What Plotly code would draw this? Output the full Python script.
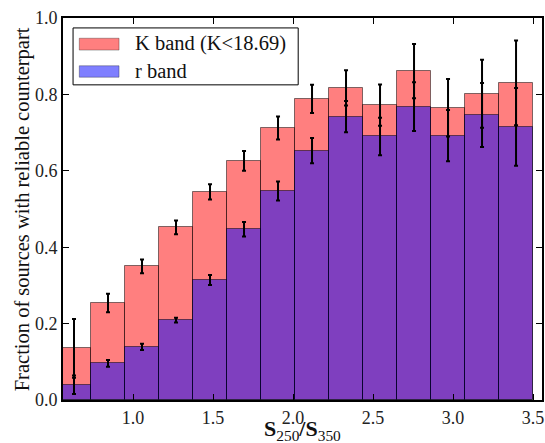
import plotly.graph_objects as go

# S250/S350 bin centres (bin width 0.2125)
bin_centers = [0.63125, 0.84375, 1.05625, 1.26875, 1.48125, 1.69375, 1.90625,
               2.11875, 2.33125, 2.54375, 2.75625, 2.96875, 3.18125, 3.39375]
bin_width = 0.2125

k_frac = [0.135, 0.254, 0.350, 0.452, 0.545, 0.626, 0.712,
          0.788, 0.817, 0.772, 0.861, 0.765, 0.802, 0.830]
k_err = [0.077, 0.024, 0.018, 0.018, 0.020, 0.026, 0.030,
         0.037, 0.046, 0.054, 0.071, 0.075, 0.089, 0.111]

r_frac = [0.040, 0.096, 0.139, 0.209, 0.314, 0.447, 0.547,
          0.653, 0.742, 0.690, 0.768, 0.692, 0.746, 0.715]
r_err = [0.024, 0.009, 0.008, 0.006, 0.013, 0.019, 0.025,
         0.033, 0.041, 0.049, 0.064, 0.067, 0.084, 0.102]

x_ticks = [1.0, 1.5, 2.0, 2.5, 3.0, 3.5]
y_ticks = [0.0, 0.2, 0.4, 0.6, 0.8, 1.0]

legend_labels = ["K band (K&lt;18.69)", "r band"]
x_title = "<b>S</b><sub>250</sub><b>/S</b><sub>350</sub>"
y_title = "Fraction of sources with reliable counterpart"

FONT = "Liberation Serif"
RED = "rgba(255,0,0,0.5)"
BLUE = "rgba(0,0,255,0.5)"
EDGE = "rgba(0,0,0,0.5)"

fig = go.Figure()
fig.add_trace(go.Bar(x=bin_centers, y=k_frac, width=bin_width,
                     marker=dict(color=RED, line=dict(color=EDGE, width=1)),
                     name=legend_labels[0], showlegend=False))
fig.add_trace(go.Bar(x=bin_centers, y=r_frac, width=bin_width,
                     marker=dict(color=BLUE, line=dict(color=EDGE, width=1)),
                     name=legend_labels[1], showlegend=False))
for yv, ev in ((k_frac, k_err), (r_frac, r_err)):
    fig.add_trace(go.Scatter(x=bin_centers, y=yv, mode="markers", marker=dict(size=0.1, opacity=0),
                             error_y=dict(type="data", array=ev, visible=True, color="black",
                                          thickness=2, width=2),
                             showlegend=False, hoverinfo="skip"))

# manual legend (matplotlib-style box with wide swatches)
fig.add_shape(type="rect", xref="paper", yref="paper", x0=0.021, x1=0.491, y0=0.825, y1=0.974,
              line=dict(color="black", width=1), fillcolor="white", layer="above")
fig.add_shape(type="rect", xref="paper", yref="paper", x0=0.034, x1=0.117, y0=0.916, y1=0.947,
              line=dict(color="rgba(0,0,0,0.3)", width=1), fillcolor=RED, layer="above")
fig.add_shape(type="rect", xref="paper", yref="paper", x0=0.034, x1=0.117, y0=0.845, y1=0.875,
              line=dict(color="rgba(0,0,0,0.3)", width=1), fillcolor=BLUE, layer="above")
fig.add_annotation(xref="paper", yref="paper", x=0.146, y=0.932, text=legend_labels[0], showarrow=False,
                   xanchor="left", yanchor="middle", font=dict(family=FONT, size=20.5, color="#111"))
fig.add_annotation(xref="paper", yref="paper", x=0.146, y=0.860, text=legend_labels[1], showarrow=False,
                   xanchor="left", yanchor="middle", font=dict(family=FONT, size=20.5, color="#111"))

# axis titles
fig.add_annotation(xref="paper", yref="paper", x=0.5, y=-0.037, text=x_title, showarrow=False,
                   xanchor="center", yanchor="top", font=dict(family=FONT, size=22, color="#111"))
fig.add_annotation(xref="paper", yref="paper", x=-0.085, y=0.5, text=y_title, showarrow=False,
                   textangle=-90, xanchor="center", yanchor="middle",
                   font=dict(family=FONT, size=20.5, color="#111"))

axis_common = dict(showgrid=False, zeroline=False, showline=True, linecolor="black", linewidth=2,
                   mirror="allticks", ticks="inside", ticklen=6, tickwidth=1, tickcolor="black",
                   automargin=False, tickfont=dict(family=FONT, size=18, color="#222"))
fig.update_xaxes(range=[0.5625, 3.556], tickvals=x_ticks, ticktext=[f"{v:.1f}" for v in x_ticks],
                 **axis_common)
fig.update_yaxes(range=[0, 1.0], tickvals=y_ticks, ticktext=[f"{v:.1f}" for v in y_ticks],
                 **axis_common)

fig.update_layout(width=545, height=443, barmode="overlay", bargap=0,
                  margin=dict(l=63, r=3, t=18, b=43, autoexpand=False),
                  plot_bgcolor="white", paper_bgcolor="white", showlegend=False)

fig.write_html("out.html", config={"displayModeBar": False},
               post_script="document.body.style.margin='0';document.body.style.overflow='hidden';")
